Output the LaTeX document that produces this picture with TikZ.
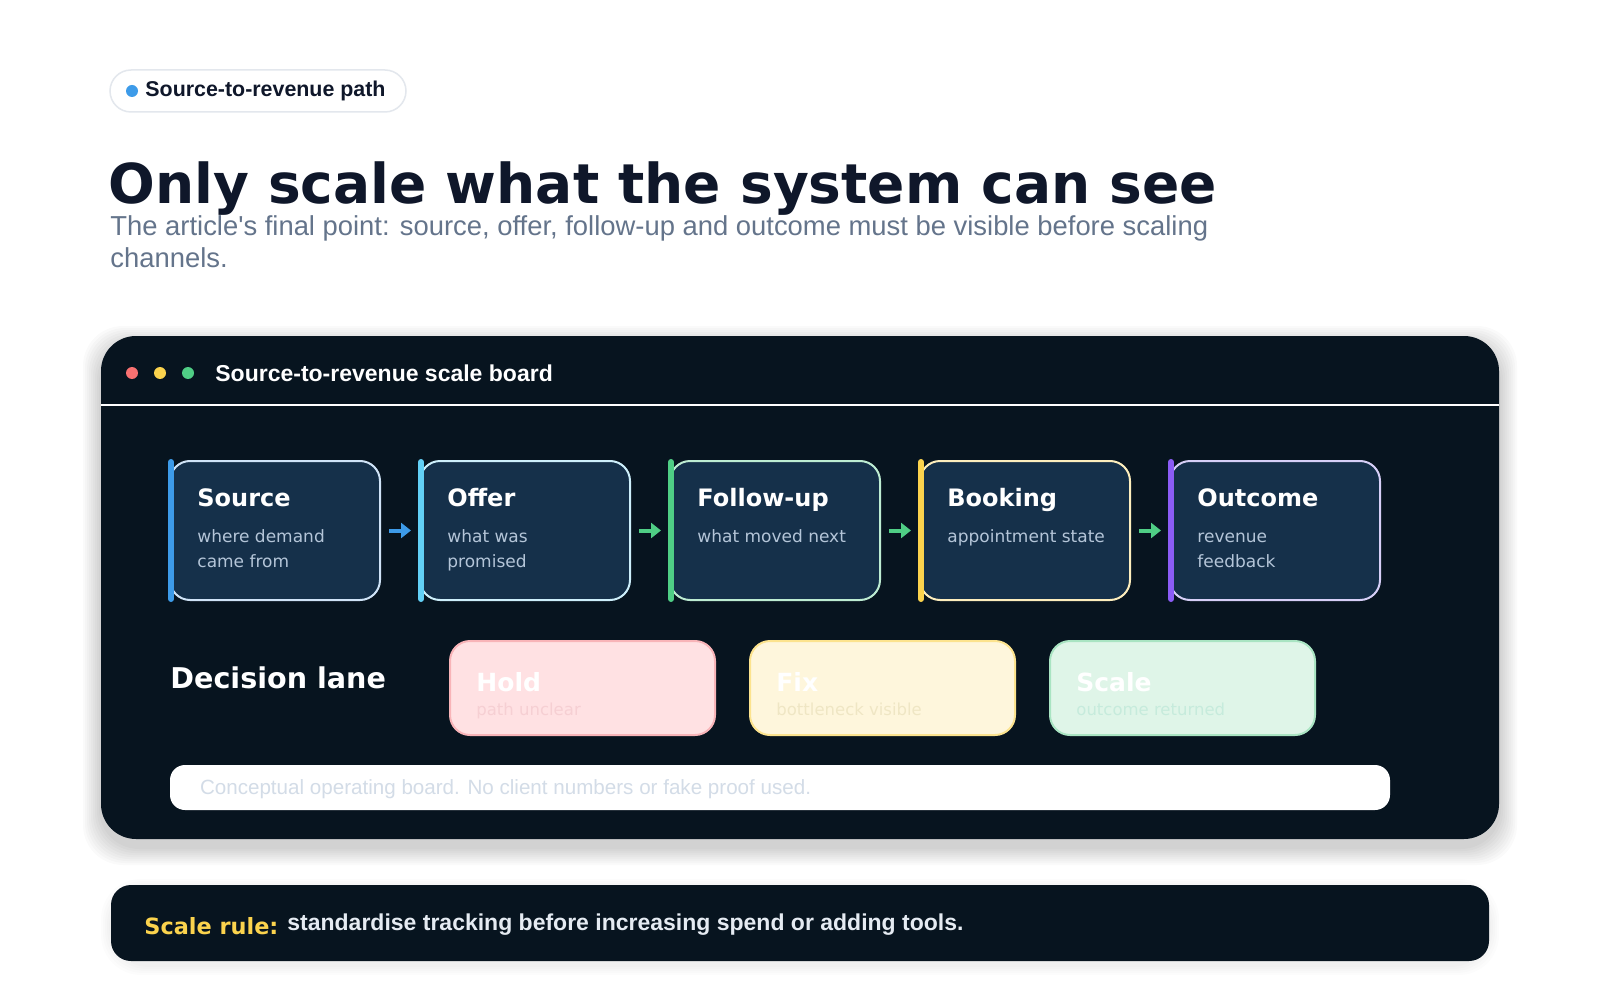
\documentclass[tikz,border=0pt]{standalone}
\usepackage{fontspec}
\setmainfont{Liberation Sans}
\newfontfamily\cardfont{DejaVu Sans}
\usetikzlibrary{calc,arrows.meta}
\definecolor{ink}{HTML}{0F172A}
\definecolor{slate}{HTML}{64748B}
\definecolor{board}{HTML}{07141F}
\definecolor{cardbg}{HTML}{15304A}
\definecolor{cardsub}{HTML}{B4C5D8}
\definecolor{tagline}{HTML}{E3E7ED}
\definecolor{accblue}{HTML}{3D9BE9}
\definecolor{acccyan}{HTML}{62D0F6}
\definecolor{accgreen}{HTML}{4FCE85}
\definecolor{accyellow}{HTML}{FBD34D}
\definecolor{accpurple}{HTML}{8B5CF6}
\definecolor{brdblue}{HTML}{CFE3F7}
\definecolor{brdcyan}{HTML}{CDEFFB}
\definecolor{brdgreen}{HTML}{BDECD2}
\definecolor{brdyellow}{HTML}{FDEEBD}
\definecolor{brdpurple}{HTML}{D6CFF7}
\definecolor{dotred}{HTML}{F87171}
\definecolor{holdbg}{HTML}{FFE1E3}
\definecolor{holdln}{HTML}{F8B4B8}
\definecolor{holdsub}{HTML}{F6CFD3}
\definecolor{fixbg}{HTML}{FEF6DC}
\definecolor{fixln}{HTML}{FCE38E}
\definecolor{fixsub}{HTML}{EFE6C4}
\definecolor{sclbg}{HTML}{DFF5E8}
\definecolor{sclln}{HTML}{A9E4C2}
\definecolor{sclsub}{HTML}{C6EBDC}
\definecolor{notetext}{HTML}{D3DCE7}
\definecolor{ruletext}{HTML}{E5EBF2}
\tikzstyle{stage} = [draw, line width=1pt, rounded corners=10pt, fill=cardbg, minimum width=105pt, minimum height=69.5pt]
\tikzstyle{stagetitle} = [anchor=base west, inner sep=0pt, text=white, font=\cardfont\bfseries\fontsize{12}{14}\selectfont]
\tikzstyle{stagesub} = [anchor=north west, inner sep=0pt, align=left, text=cardsub, font=\cardfont\fontsize{8.5}{12.75}\selectfont]
\tikzstyle{flow} = [line width=2pt, -{Triangle[length=5pt,width=7.5pt]}, shorten >=4pt, shorten <=4pt]
\tikzstyle{lane} = [draw, line width=1pt, rounded corners=10pt, minimum width=132.5pt, minimum height=47pt]
\tikzstyle{lanetitle} = [anchor=base west, inner sep=0pt, text=white, font=\cardfont\bfseries\fontsize{12.5}{14}\selectfont]
\tikzstyle{lanesub} = [anchor=base west, inner sep=0pt, font=\cardfont\fontsize{8.25}{10}\selectfont]
\tikzstyle{dot} = [circle, inner sep=0pt, minimum size=6pt]
\tikzstyle{halo} = [black, opacity=0.018, rounded corners=20pt]

\begin{document}
\begin{tikzpicture}[x=0.5pt, y=-0.5pt]
    \fill[white] (0,0) rectangle (1600,1000);
    \useasboundingbox (0,0) rectangle (1600,1000);
    \node[draw=tagline, line width=0.75pt, fill=white, rounded corners=10.5pt, minimum width=148pt, minimum height=21pt] (tag) at (258,91) {};
    \node[dot, fill=accblue] (tagdot) at (132,91) {};
    \node[anchor=west, inner sep=0pt, text=ink, font=\bfseries\fontsize{10.7}{12}\selectfont] (tagtext) at (145,91) {Source-to-revenue path};
    \node[anchor=base west, inner sep=0pt, text=ink, font=\cardfont\bfseries\fontsize{27.5}{30}\selectfont] (headline) at (108,204) {Only scale what the system can see};
    \node[anchor=base west, inner sep=0pt, align=left, text=slate, font=\fontsize{13.7}{16.5}\selectfont] (lede) at (110,268) {The article\textquotesingle s final point: source, offer, follow-up and outcome must be visible before scaling\\channels.};

    \coordinate (bnw) at (101,336);
    \coordinate (bse) at (1499,839);
    \foreach \i in {1,...,9}
        \fill[halo] ($(bnw)+(-2*\i,-2*\i+8)$) rectangle ($(bse)+(2*\i,2*\i+8)$);
    \node[fill=board, rounded corners=17.5pt, minimum width=699pt, minimum height=251.5pt] (board) at (800,587.5) {};
    \coordinate (hdr) at (0,405);
    \draw[white, line width=1pt] (board.west |- hdr) -- (board.east |- hdr);
    \foreach \n/\x/\c in {dr/132/dotred, dy/160/accyellow, dg/188/accgreen}
        \node[dot, fill=\c] (\n) at (\x,373) {};
    \node[anchor=west, inner sep=0pt, text=white, font=\bfseries\fontsize{11.5}{13}\selectfont] (boardtitle) at (215,373) {Source-to-revenue scale board};

    \foreach \n/\x/\acc/\brd/\ttl/\sub in {src/275/accblue/brdblue/Source/{where demand\\came from}, off/525/acccyan/brdcyan/Offer/{what was\\promised}, fup/775/accgreen/brdgreen/Follow-up/{what moved next}, bkg/1025/accyellow/brdyellow/Booking/{appointment state}, out/1275/accpurple/brdpurple/Outcome/{revenue\\feedback}}{
        \node[stage, draw=\brd] (\n) at (\x,530.5) {};
        \draw[\acc, line width=3pt, line cap=round] ($(\n.north west)+(2,2)$) -- ($(\n.south west)+(2,-2)$);
        \node[stagetitle] (\n-t) at ($(\n.north west)+(28,46)$) {\ttl};
        \node[stagesub] (\n-s) at ($(\n.north west)+(28,64)$) {\strut\sub};
    }
    \foreach \a/\b/\c in {src/off/accblue, off/fup/accgreen, fup/bkg/accgreen, bkg/out/accgreen}
        \draw[flow, \c] (\a) -- (\b);

    \node[anchor=west, inner sep=0pt, text=white, font=\cardfont\bfseries\fontsize{14.3}{16}\selectfont] (lanelabel) at (170,678) {Decision lane};
    \foreach \n/\x/\fc/\dc/\sc/\ttl/\sub in {hold/582.5/holdbg/holdln/holdsub/Hold/path unclear, fix/882.5/fixbg/fixln/fixsub/Fix/bottleneck visible, scl/1182.5/sclbg/sclln/sclsub/Scale/outcome returned}{
        \node[lane, fill=\fc, draw=\dc] (\n) at (\x,688) {};
        \node[lanetitle] (\n-t) at ($(\n.west)+(27,3)$) {\ttl};
        \node[lanesub, text=\sc] (\n-s) at ($(\n.west)+(27,27)$) {\sub};
    }

    \node[fill=white, rounded corners=7.5pt, minimum width=610pt, minimum height=22.5pt] (note) at (780,787.5) {};
    \node[anchor=west, inner sep=0pt, text=notetext, font=\fontsize{10.3}{12}\selectfont] (notetext) at ($(note.west)+(30,1.5)$) {Conceptual operating board. No client numbers or fake proof used.};

    \coordinate (rnw) at (111,885);
    \coordinate (rse) at (1489,961);
    \foreach \i in {1,...,5}
        \fill[halo, opacity=0.012] ($(rnw)+(-2*\i,-2*\i+4)$) rectangle ($(rse)+(2*\i,2*\i+4)$);
    \node[fill=board, rounded corners=10pt, minimum width=689pt, minimum height=38pt] (rule) at (800,923) {};
    \node[anchor=base west, inner sep=0pt, text=accyellow, font=\cardfont\bfseries\fontsize{11.2}{13}\selectfont] (rulekey) at (144,934) {Scale rule:};
    \node[anchor=base west, inner sep=0pt, text=ruletext, font=\bfseries\fontsize{11.5}{13}\selectfont] (ruletext) at (287,930) {standardise tracking before increasing spend or adding tools.};
\end{tikzpicture}
\end{document}
